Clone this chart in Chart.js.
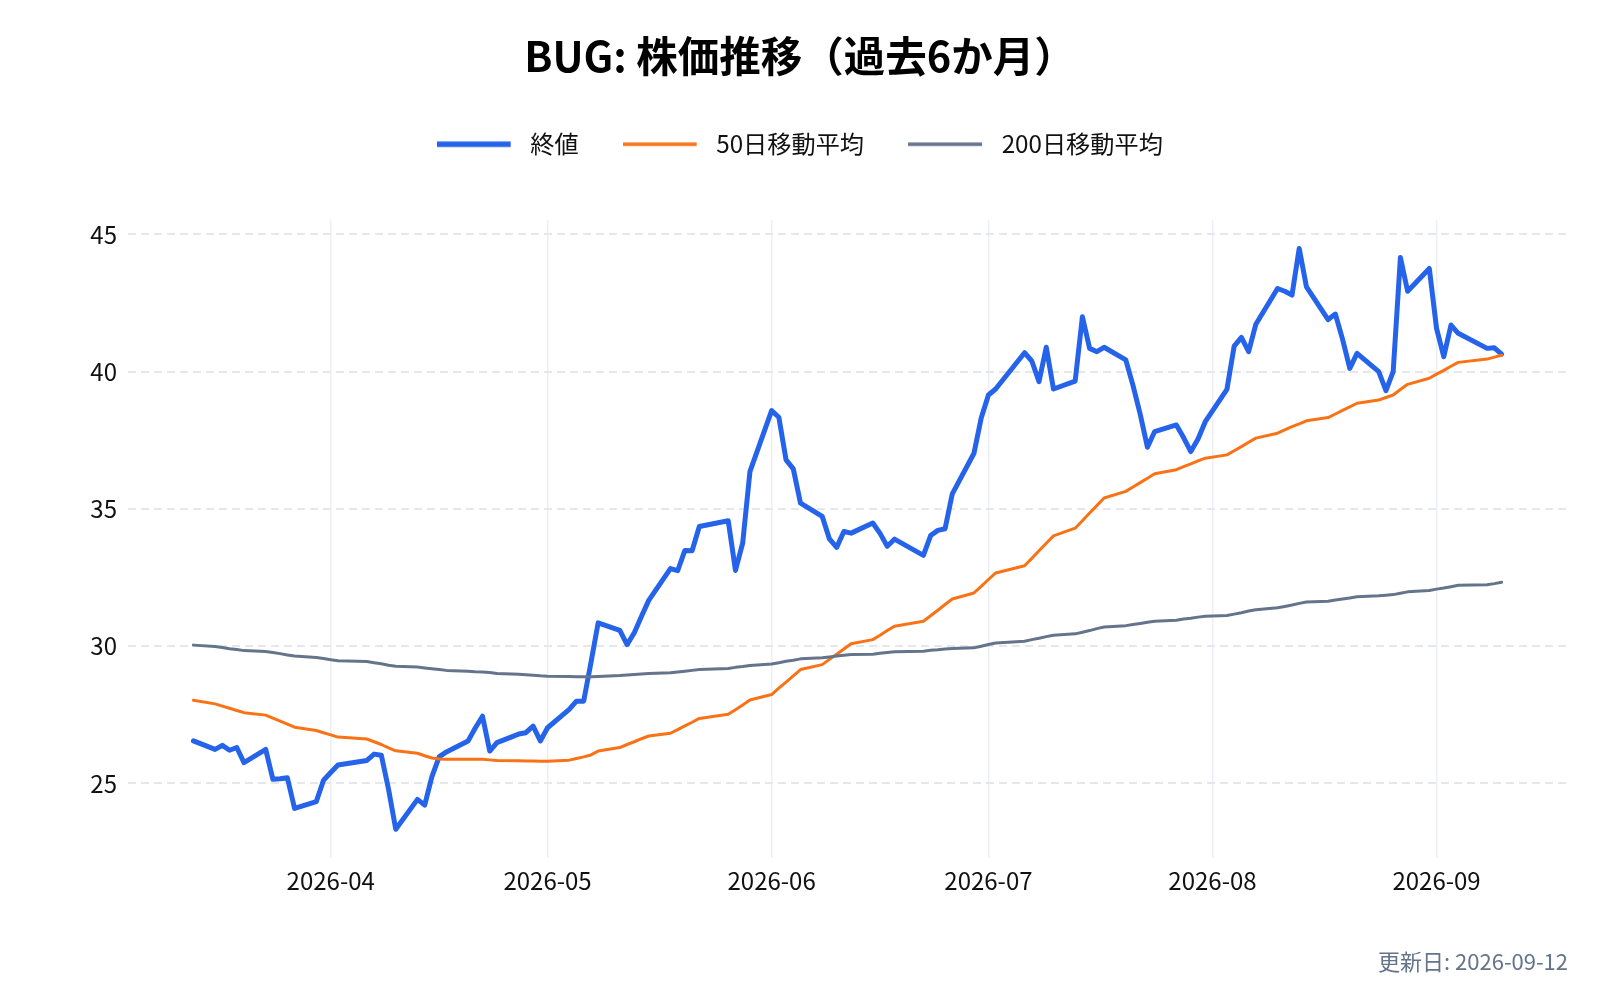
<!DOCTYPE html>
<html lang="ja">
<head>
<meta charset="utf-8">
<title>BUG: 株価推移（過去6か月）</title>
<script src="https://cdn.jsdelivr.net/npm/chart.js@4.4.1/dist/chart.umd.min.js"></script>
<style>
html,body{margin:0;padding:0;background:#fff;}
#wrap{width:1600px;height:1000px;position:relative;}
</style>
</head>
<body>
<div id="wrap"><canvas id="c" width="1600" height="1000"></canvas></div>
<script>
const chartTitle = 'BUG: 株価推移（過去6か月）';
const updatedLabel = '更新日: 2026-09-12';
const seriesNames = ['終値', '50日移動平均', '200日移動平均'];

const dates = [
  '2026-03-13','2026-03-16','2026-03-17','2026-03-18','2026-03-19','2026-03-20','2026-03-23','2026-03-24','2026-03-25','2026-03-26','2026-03-27','2026-03-30','2026-03-31',
  '2026-04-01','2026-04-02','2026-04-06','2026-04-07','2026-04-08','2026-04-09','2026-04-10','2026-04-13','2026-04-14','2026-04-15','2026-04-16','2026-04-17','2026-04-20','2026-04-21','2026-04-22','2026-04-23','2026-04-24','2026-04-27','2026-04-28','2026-04-29','2026-04-30',
  '2026-05-01','2026-05-04','2026-05-05','2026-05-06','2026-05-07','2026-05-08','2026-05-11','2026-05-12','2026-05-13','2026-05-14','2026-05-15','2026-05-18','2026-05-19','2026-05-20','2026-05-21','2026-05-22','2026-05-26','2026-05-27','2026-05-28','2026-05-29',
  '2026-06-01','2026-06-02','2026-06-03','2026-06-04','2026-06-05','2026-06-08','2026-06-09','2026-06-10','2026-06-11','2026-06-12','2026-06-15','2026-06-16','2026-06-17','2026-06-18','2026-06-22','2026-06-23','2026-06-24','2026-06-25','2026-06-26','2026-06-29','2026-06-30',
  '2026-07-01','2026-07-02','2026-07-06','2026-07-07','2026-07-08','2026-07-09','2026-07-10','2026-07-13','2026-07-14','2026-07-15','2026-07-16','2026-07-17','2026-07-20','2026-07-21','2026-07-22','2026-07-23','2026-07-24','2026-07-27','2026-07-28','2026-07-29','2026-07-30','2026-07-31',
  '2026-08-03','2026-08-04','2026-08-05','2026-08-06','2026-08-07','2026-08-10','2026-08-11','2026-08-12','2026-08-13','2026-08-14','2026-08-17','2026-08-18','2026-08-19','2026-08-20','2026-08-21','2026-08-24','2026-08-25','2026-08-26','2026-08-27','2026-08-28','2026-08-31',
  '2026-09-01','2026-09-02','2026-09-03','2026-09-04','2026-09-08','2026-09-09','2026-09-10'
];

const closePrices = [
  26.55, 26.24, 26.39, 26.21, 26.31, 25.76, 26.24, 25.15, 25.17, 25.21, 24.09, 24.34, 25.12,
  25.40, 25.67, 25.84, 26.07, 26.03, 24.79, 23.33, 24.42, 24.21, 25.25, 25.97, 26.15, 26.55, 27.02, 27.45, 26.18, 26.49, 26.80, 26.85, 27.09, 26.55,
  27.03, 27.70, 28.00, 28.00, 29.40, 30.85, 30.58, 30.06, 30.49, 31.09, 31.67, 32.83, 32.75, 33.49, 33.48, 34.36, 34.57, 32.76, 33.76, 36.36,
  38.58, 38.34, 36.79, 36.46, 35.21, 34.73, 33.91, 33.60, 34.18, 34.12, 34.49, 34.11, 33.64, 33.90, 33.31, 34.03, 34.22, 34.28, 35.55, 37.03, 38.31,
  39.15, 39.37, 40.69, 40.39, 39.64, 40.89, 39.37, 39.66, 42.00, 40.85, 40.73, 40.89, 40.43, 39.50, 38.45, 37.25, 37.82, 38.06, 37.60, 37.09, 37.55, 38.18,
  39.36, 40.93, 41.25, 40.73, 41.73, 43.03, 42.93, 42.79, 44.49, 43.09, 41.90, 42.10, 41.18, 40.12, 40.67, 40.00, 39.31, 40.00, 44.16, 42.93, 43.76,
  41.58, 40.55, 41.70, 41.40, 40.85, 40.87, 40.64
];

const ma50 = [
  28.03, 27.90, 27.82, 27.74, 27.66, 27.58, 27.49, 27.38, 27.27, 27.16, 27.05, 26.93, 26.85,
  26.77, 26.69, 26.62, 26.52, 26.42, 26.30, 26.19, 26.10, 26.01, 25.93, 25.89, 25.88, 25.88, 25.88, 25.88, 25.86, 25.84, 25.83, 25.82, 25.82, 25.81,
  25.81, 25.85, 25.91, 25.97, 26.04, 26.18, 26.31, 26.42, 26.52, 26.63, 26.73, 26.83, 26.96, 27.10, 27.23, 27.37, 27.52, 27.69, 27.86, 28.04,
  28.24, 28.47, 28.69, 28.92, 29.15, 29.33, 29.52, 29.71, 29.90, 30.09, 30.24, 30.40, 30.57, 30.73, 30.91, 31.11, 31.31, 31.52, 31.72, 31.94, 32.18,
  32.43, 32.67, 32.93, 33.20, 33.48, 33.75, 34.02, 34.30, 34.57, 34.85, 35.12, 35.40, 35.64, 35.80, 35.96, 36.12, 36.28, 36.43, 36.54, 36.64, 36.75, 36.85,
  36.97, 37.12, 37.27, 37.43, 37.58, 37.76, 37.88, 38.00, 38.10, 38.21, 38.33, 38.46, 38.59, 38.72, 38.85, 38.97, 39.06, 39.15, 39.35, 39.54, 39.76,
  39.91, 40.05, 40.20, 40.34, 40.46, 40.53, 40.60
];

const ma200 = [
  30.04, 29.99, 29.95, 29.91, 29.88, 29.84, 29.81, 29.77, 29.73, 29.68, 29.64, 29.59, 29.55,
  29.51, 29.47, 29.44, 29.40, 29.36, 29.31, 29.27, 29.24, 29.21, 29.18, 29.15, 29.12, 29.09, 29.07, 29.06, 29.04, 29.01, 28.98, 28.96, 28.94, 28.92,
  28.91, 28.90, 28.89, 28.89, 28.89, 28.90, 28.93, 28.95, 28.97, 28.99, 29.01, 29.03, 29.06, 29.09, 29.12, 29.15, 29.19, 29.23, 29.26, 29.30,
  29.35, 29.40, 29.45, 29.49, 29.54, 29.58, 29.61, 29.64, 29.67, 29.70, 29.71, 29.74, 29.77, 29.80, 29.82, 29.85, 29.87, 29.90, 29.92, 29.94, 30.00,
  30.06, 30.12, 30.18, 30.24, 30.29, 30.35, 30.40, 30.45, 30.51, 30.57, 30.64, 30.70, 30.75, 30.79, 30.83, 30.87, 30.91, 30.95, 30.99, 31.02, 31.06, 31.09,
  31.12, 31.17, 31.22, 31.28, 31.33, 31.40, 31.45, 31.50, 31.56, 31.61, 31.64, 31.68, 31.72, 31.76, 31.80, 31.84, 31.86, 31.88, 31.93, 31.98, 32.03,
  32.08, 32.12, 32.17, 32.22, 32.24, 32.28, 32.33
];

const monthTicks = ['2026-04', '2026-05', '2026-06', '2026-07', '2026-08', '2026-09'];
const yTicks = [25, 30, 35, 40, 45];

const DAY = 86400000;
const toDay = s => Date.UTC(+s.slice(0, 4), +s.slice(5, 7) - 1, +(s.slice(8, 10) || '1')) / DAY;
const xs = dates.map(toDay);
const toPoints = arr => arr.map((v, i) => ({ x: xs[i], y: v }));
const monthDays = monthTicks.map(m => toDay(m + '-01'));

const FONT = "'Noto Sans CJK JP', 'Noto Sans', sans-serif";
Chart.defaults.font.family = FONT;
Chart.defaults.color = '#111';

const colors = ['#2563eb', '#f97316', '#64748b'];
const lineWidths = [5, 3, 3];

function swatch(color, w) {
  const c = document.createElement('canvas');
  c.width = 82; c.height = 8;
  const g = c.getContext('2d');
  g.fillStyle = color;
  g.fillRect(0, (8 - w) / 2, 74, w);
  return c;
}
const swatches = colors.map((c, i) => swatch(c, lineWidths[i] + 0.5));

const footerPlugin = {
  id: 'footerNote',
  afterDraw(chart) {
    const c = chart.ctx;
    c.save();
    c.font = '22px ' + FONT;
    c.fillStyle = '#64748b';
    c.textAlign = 'right';
    c.textBaseline = 'middle';
    c.fillText(updatedLabel, chart.chartArea.right + 1, 962);
    c.restore();
  }
};

const xPadDays = 9.05;

new Chart(document.getElementById('c'), {
  type: 'line',
  data: {
    datasets: [
      { label: seriesNames[0], data: toPoints(closePrices), borderColor: colors[0], backgroundColor: colors[0], borderWidth: lineWidths[0], order: 3 },
      { label: seriesNames[1], data: toPoints(ma50), borderColor: colors[1], backgroundColor: colors[1], borderWidth: lineWidths[1], order: 2 },
      { label: seriesNames[2], data: toPoints(ma200), borderColor: colors[2], backgroundColor: colors[2], borderWidth: lineWidths[2], order: 1 }
    ]
  },
  options: {
    responsive: false,
    animation: false,
    events: [],
    elements: {
      point: { radius: 0, hoverRadius: 0 },
      line: { tension: 0, borderCapStyle: 'round', borderJoinStyle: 'round', fill: false }
    },
    layout: { padding: 0 },
    plugins: {
      title: {
        display: true, text: chartTitle, color: '#000',
        font: { size: 41.5, weight: 'bold', lineHeight: 1.2 },
        padding: { top: 31.5, bottom: 6.3 }
      },
      subtitle: {
        display: true, text: '', weight: 100,
        font: { size: 10, lineHeight: 1 },
        padding: { top: 0, bottom: 43.6 }
      },
      legend: {
        position: 'top', align: 'center',
        labels: {
          font: { size: 24.2 }, color: '#111', padding: 44.5,
          usePointStyle: true, pointStyleWidth: 81, boxHeight: 24,
          sort: (a, b) => a.datasetIndex - b.datasetIndex,
          generateLabels(chart) {
            const items = Chart.defaults.plugins.legend.labels.generateLabels(chart);
            return items.map(it => Object.assign({}, it, { pointStyle: swatches[it.datasetIndex], lineWidth: 0 }));
          }
        }
      },
      tooltip: { enabled: false }
    },
    scales: {
      x: {
        type: 'linear',
        min: xs[0] - xPadDays,
        max: xs[xs.length - 1] + xPadDays,
        afterBuildTicks: axis => { axis.ticks = monthDays.map(v => ({ value: v })); },
        ticks: {
          font: { size: 24 }, color: '#111', padding: 9, maxRotation: 0, autoSkip: false,
          callback: v => { const i = monthDays.indexOf(v); return i >= 0 ? monthTicks[i] : ''; }
        },
        grid: { color: '#eceff4', lineWidth: 1.5, drawTicks: false },
        border: { display: false },
        afterFit: axis => { axis.height = 142.4; }
      },
      y: {
        type: 'linear', position: 'left',
        min: 22.3, max: 45.53,
        afterBuildTicks: axis => { axis.ticks = yTicks.map(v => ({ value: v })); },
        ticks: { font: { size: 24 }, color: '#111', padding: 11 },
        grid: { color: '#e5e7eb', lineWidth: 2, drawTicks: false },
        border: { display: false, dash: [8, 5] },
        afterFit: axis => { axis.width = 128; }
      },
      yRight: {
        type: 'linear', position: 'right', display: true,
        ticks: { display: false },
        grid: { display: false, drawTicks: false },
        border: { display: false },
        afterFit: axis => { axis.width = 33; }
      }
    }
  },
  plugins: [footerPlugin]
});
</script>
</body>
</html>
